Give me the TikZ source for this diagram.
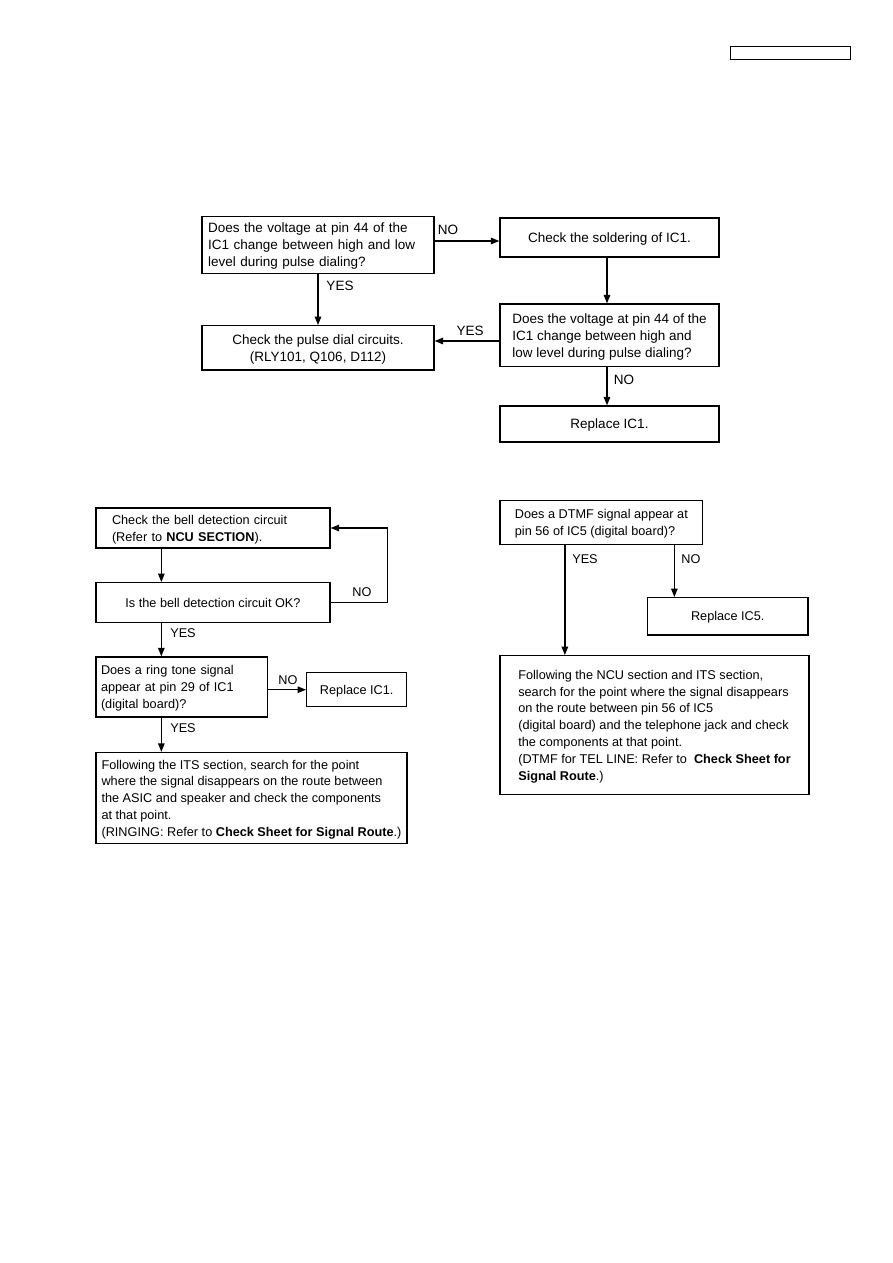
\documentclass[tikz,border=0pt]{standalone}
\usepackage{fontspec}
\setmainfont{Liberation Sans}
\usetikzlibrary{arrows.meta}

\begin{document}
\begin{tikzpicture}[x=1pt,y=-1pt,line width=1.3pt,>={Triangle[length=8.5pt,width=6.5pt]}]
  \useasboundingbox (0,0) rectangle (893,1263);
  \tikzset{
    flowbox/.style={draw,inner ysep=0pt,text depth=0pt,align=center},
    leftbox/.style={flowbox,align=left},
    bigtxt/.style={font=\fontsize{13.5}{17}\selectfont},
    smalltxt/.style={font=\fontsize{12.7}{16.8}\selectfont},
    answer/.style={inner sep=0pt}
  }

  % header frame
  \node[draw,line width=1pt,minimum width=120pt,minimum height=13.5pt,inner sep=0pt] (hdr) at (790,53.25) {};

  % pulse dialing check
  \begin{scope}[every node/.append style={bigtxt}]
    \node[leftbox,minimum width=232pt,minimum height=57pt,inner xsep=6pt,text width=220pt,text depth=34pt] (qA) at (318,245)
      {Does the voltage at pin 44 of the\\IC1 change between high and low\\level during pulse dialing?};
    \node[flowbox,minimum width=219pt,minimum height=39pt] (chkB) at (609.5,237.5)
      {Check the soldering of IC1.};
    \node[leftbox,minimum width=219pt,minimum height=62.5pt] (qC) at (609.5,335.25)
      {Does the voltage at pin 44 of the\\IC1 change between high and\\low level during pulse dialing?};
    \node[flowbox,minimum width=232pt,minimum height=44.3pt] (pulseD) at (318,347.85)
      {Check the pulse dial circuits.\\(RLY101, Q106, D112)};
    \node[flowbox,minimum width=219pt,minimum height=36pt] (repE) at (609.5,424)
      {Replace IC1.};

    \coordinate (aNo) at ([yshift=4pt]qA.east);
    \coordinate (bDown) at ([xshift=-2.5pt]chkB.south);
    \coordinate (cYes) at ([yshift=-5.75pt]qC.west);
    \coordinate (cNo) at ([xshift=-2.5pt]qC.south);
    \draw[->] (aNo) -- (aNo -| chkB.west);
    \draw[->] (qA.south) -- (pulseD.north);
    \draw[->] (bDown) -- (bDown |- qC.north);
    \draw[->] (cYes) -- (cYes -| pulseD.east);
    \draw[->] (cNo) -- (cNo |- repE.north);

    \node[answer] (lNoA) at (448,230) {NO};
    \node[answer] (lYesA) at (340,286) {YES};
    \node[answer] (lYesC) at (470,331) {YES};
    \node[answer] (lNoC) at (624,380) {NO};
  \end{scope}

  % bell detection / ringing
  \begin{scope}[every node/.append style={smalltxt}]
    \node[leftbox,minimum width=234pt,minimum height=40pt,inner xsep=16pt,text width=202pt,text depth=16.8pt] (fChk) at (213,528)
      {Check the bell detection circuit\\(Refer to \textbf{NCU SECTION}).};
    \node[flowbox,minimum width=234pt,minimum height=39.6pt] (gQ) at (213,602.5)
      {Is the bell detection circuit OK?};
    \node[leftbox,minimum width=171.5pt,minimum height=60pt,inner xsep=5pt,text width=161.5pt,text depth=33.6pt] (hQ) at (181.75,687)
      {Does a ring tone signal\\appear at pin 29 of IC1\\(digital board)?};
    \node[flowbox,minimum width=100pt,minimum height=34pt] (repI) at (356.7,689.7)
      {Replace IC1.};
    \node[leftbox,minimum width=311pt,minimum height=91pt] (jFol) at (251.5,798)
      {Following the ITS section, search for the point\\where the signal disappears on the route between\\the ASIC and speaker and check the components\\at that point.\\(RINGING: Refer to \textbf{Check Sheet for Signal Route}.)};

    \coordinate (fDown) at ([xshift=66pt]fChk.south west);
    \coordinate (gDown) at ([xshift=66pt]gQ.south west);
    \coordinate (hDown) at ([xshift=66pt]hQ.south west);
    \draw[->] (fDown) -- (fDown |- gQ.north);
    \draw[->] (gQ.east) -- ++(57,0) |- (fChk.east);
    \draw[->] (gDown) -- (gDown |- hQ.north);
    \draw[->] (repI.west -| hQ.east) -- (repI.west);
    \draw[->] (hDown) -- (hDown |- jFol.north);

    \node[answer] (lNoG) at (362,592) {NO};
    \node[answer] (lYesG) at (183,633) {YES};
    \node[answer] (lNoH) at (288,680) {NO};
    \node[answer] (lYesH) at (183,728) {YES};
  \end{scope}

  % DTMF signal
  \begin{scope}[every node/.append style={smalltxt}]
    \node[leftbox,minimum width=202.7pt,minimum height=44pt] (qK) at (601.35,522.5)
      {Does a DTMF signal appear at\\pin 56 of IC5 (digital board)?};
    \node[flowbox,minimum width=160.5pt,minimum height=37.3pt] (repM) at (727.75,616.35)
      {Replace IC5.};
    \node[leftbox,minimum width=309pt,minimum height=138.8pt] (ncuL) at (654.5,725.1)
      {Following the NCU section and ITS section,\\search for the point where the signal disappears\\on the route between pin 56 of IC5\\(digital board) and the telephone jack and check\\the components at that point.\\(DTMF for TEL LINE: Refer to \ \textbf{Check Sheet for}\\\textbf{Signal Route}.)};

    \coordinate (kYes) at ([xshift=65.5pt]qK.south west);
    \coordinate (kNo) at ([xshift=-29pt]qK.south east);
    \draw[->] (kYes) -- (kYes |- ncuL.north);
    \draw[->] (kNo) -- (kNo |- repM.north);

    \node[answer] (lYesK) at (585,559) {YES};
    \node[answer] (lNoK) at (691,559) {NO};
  \end{scope}
\end{tikzpicture}
\end{document}
